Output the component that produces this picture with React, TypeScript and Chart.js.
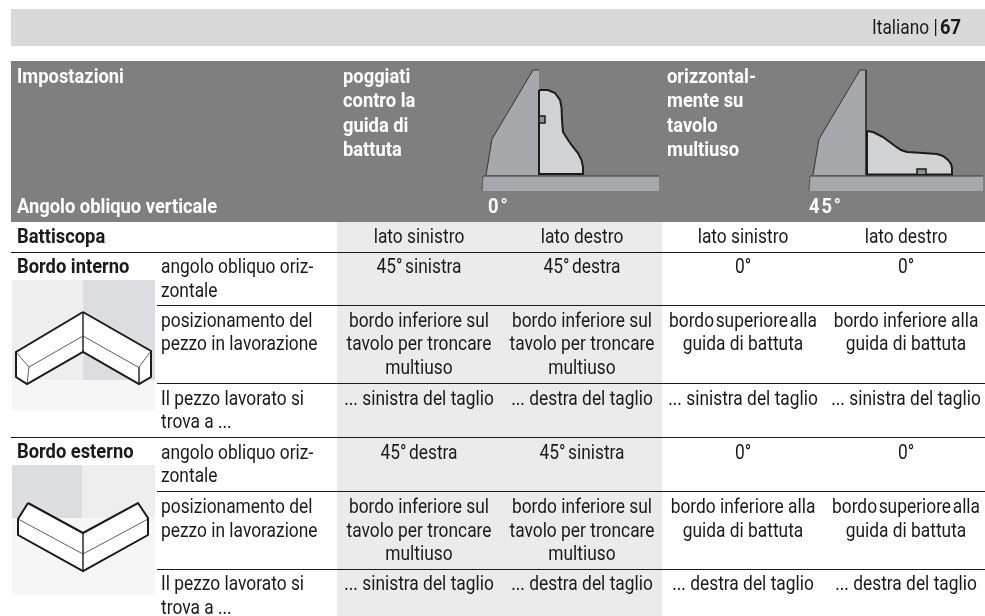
import React, { useEffect, useRef } from "react";
import { Chart, registerables } from "chart.js";

Chart.register(...registerables);

type P = [number, number];

// ---- sheet regions, in sheet units -------------------------------------
const topBand: P[] = [[11, 9], [985, 9], [985, 46], [11, 46]];
const headerBand: P[] = [[11, 61], [985, 61], [985, 222], [11, 222]];
const shadedColumn: P[] = [[337, 222], [662, 222], [662, 616], [337, 616]];

const innerBoxLeft: P[] = [[12, 280], [83, 280], [83, 380], [12, 380]];
const innerBoxRight: P[] = [[83, 280], [155, 280], [155, 380], [83, 380]];
const innerBoxBottom: P[] = [[12, 380], [155, 380], [155, 410], [12, 410]];
const outerBoxLeft: P[] = [[12, 465], [82, 465], [82, 518], [12, 518]];
const outerBoxRight: P[] = [[82, 465], [155, 465], [155, 518], [82, 518]];
const outerBoxBottom: P[] = [[12, 518], [155, 518], [155, 595], [12, 595]];

// ---- rules ---------------------------------------------------------------
const fullRules: number[] = [252.5, 437.5];
const partRules: number[] = [305.5, 383.5, 491.5, 569.5];

// ---- mitre-joint drawings -------------------------------------------------
const innerOutline: P[] = [[83, 312], [16, 352], [16, 377], [27, 384], [83, 352], [139, 384], [151, 377], [151, 351]];
const innerOutlineClosed: P[] = [[83, 312]];
const innerThin: P[][] = [
  [[16, 352], [29, 367], [27, 384]],
  [[29, 367], [83, 336], [138, 367]],
  [[151, 351], [139, 367], [139, 384]],
  [[83, 312], [83, 352]],
];
const outerOutline: P[] = [[28, 503], [18, 519], [18, 535], [83, 571], [148, 535], [148, 518], [138, 503], [83, 533], [28, 503]];
const outerThin: P[][] = [
  [[18, 519], [83, 554], [148, 519]],
  [[83, 533], [83, 571]],
];

// ---- machine profiles -------------------------------------------------------
const fence0: P[] = [[533, 70], [539, 70], [539, 175], [486, 175], [492, 139]];
const base0: P[] = [[483, 176], [659, 176], [659, 191], [482, 191]];
const piece0: P[] = [[539, 90], [548, 90], [555, 93], [560, 100], [561.5, 107], [562, 120], [563, 132], [568, 140], [573, 147], [578, 153], [581.5, 160], [583, 167], [583, 174], [539, 174]];
const notch0: P[] = [[539, 116], [545, 116], [545, 123], [539, 123]];
const fence45: P[] = [[860, 70], [866, 70], [866, 175], [813, 175], [819, 139]];
const base45: P[] = [[810, 176], [983, 176], [983, 191], [809, 191]];
const piece45: P[] = [[867, 131], [873, 132], [883, 137], [895, 146], [901, 150], [907, 152], [923, 153], [937, 154], [943, 156], [948, 160], [951, 164], [952, 168], [952, 174.5], [867, 174.5]];
const notch45: P[] = [[917, 174], [917, 169], [926, 169], [926, 174]];

// ---- text -------------------------------------------------------------------
const pageLabel = "Italiano |";
const pageNumber = "67";
const headLeft = ["Impostazioni", "Angolo obliquo verticale"];
const headCol1 = ["poggiati", "contro la", "guida di", "battuta"];
const headCol2 = ["orizzontal-", "mente su", "tavolo", "multiuso"];
const headAngles = ["0°", "45°"];
const rowHeads = ["Battiscopa", "Bordo interno", "Bordo esterno"];
const rowSides = ["lato sinistro", "lato destro", "lato sinistro", "lato destro"];
const descAngle = ["angolo obliquo oriz-", "zontale"];
const descPos = ["posizionamento del", "pezzo in lavorazione"];
const descWhere = ["Il pezzo lavorato si", "trova a ..."];
const innerAngles = ["45° sinistra", "45° destra", "0°", "0°"];
const outerAngles = ["45° destra", "45° sinistra", "0°", "0°"];
const table3 = ["bordo inferiore sul", "tavolo per troncare", "multiuso"];
const upperFence = ["bordo superiore alla", "guida di battuta"];
const lowerFence = ["bordo inferiore alla", "guida di battuta"];
const innerWhere = ["... sinistra del taglio", "... destra del taglio", "... sinistra del taglio", "... sinistra del taglio"];
const outerWhere = ["... sinistra del taglio", "... destra del taglio", "... destra del taglio", "... destra del taglio"];

// ---- layout ------------------------------------------------------------------
const colCentres = [419, 582, 743, 906];
const FONT = "Roboto";
const SIZE = 19.5;
const SQUEEZE = 0.89;
const BOLD_SQUEEZE = 0.94;

type T = { s: string; x: number; y: number; a?: CanvasTextAlign; b?: boolean; c?: string; ws?: number; ls?: number };
const texts: T[] = [];
const W = "#ffffff";
const add = (s: string, x: number, y: number, o: Partial<T> = {}) => texts.push({ s, x, y, ...o });
add(pageLabel, 872, 34);
add(pageNumber, 961, 34, { a: "right", b: true });
add(headLeft[0], 17, 83, { b: true, c: W });
add(headLeft[1], 17, 213, { b: true, c: W });
[83, 107, 132, 156].forEach((y, i) => {
  add(headCol1[i], 343, y, { b: true, c: W });
  add(headCol2[i], 667, y, { b: true, c: W });
});
add(headAngles[0], 488, 213, { b: true, c: W, ls: 2 });
add(headAngles[1], 809, 213, { b: true, c: W, ls: 2 });
add(rowHeads[0], 17, 243, { b: true });
add(rowHeads[1], 17, 273, { b: true });
add(rowHeads[2], 17, 458, { b: true });
const addDesc = (ys: number[]) => {
  add(descAngle[0], 161, ys[0]); add(descAngle[1], 161, ys[1]);
  add(descPos[0], 161, ys[2]); add(descPos[1], 161, ys[3]);
  add(descWhere[0], 161, ys[4]); add(descWhere[1], 161, ys[5]);
};
addDesc([273, 297, 327, 350, 405, 428]);
addDesc([459, 482, 513, 537, 590, 614]);
colCentres.forEach((x, i) => {
  add(rowSides[i], x, 243, { a: "center" });
  add(innerAngles[i], x, 273, { a: "center", ws: -2 });
  add(outerAngles[i], x, 459, { a: "center", ws: -2 });
  add(innerWhere[i], x, 405, { a: "center" });
  add(outerWhere[i], x, 590, { a: "center" });
});
[0, 1].forEach((c) => {
  [327, 350, 374].forEach((y, i) => add(table3[i], colCentres[c], y, { a: "center" }));
  [513, 537, 560].forEach((y, i) => add(table3[i], colCentres[c], y, { a: "center" }));
});
add(upperFence[0], colCentres[2], 327, { a: "center", ws: -3 });
add(upperFence[1], colCentres[2], 350, { a: "center" });
add(lowerFence[0], colCentres[3], 327, { a: "center" });
add(lowerFence[1], colCentres[3], 350, { a: "center" });
add(lowerFence[0], colCentres[2], 513, { a: "center" });
add(lowerFence[1], colCentres[2], 537, { a: "center" });
add(upperFence[0], colCentres[3], 513, { a: "center", ws: -3 });
add(upperFence[1], colCentres[3], 537, { a: "center" });

// ---- datasets ----------------------------------------------------------------
const toPts = (p: P[]) => p.map(([x, y]) => ({ x, y }));
const ds = (p: P[], o: { fill?: string; stroke?: string; width?: number; close?: boolean } = {}) => ({
  data: toPts(o.close ? [...p, p[0]] : p),
  showLine: true,
  pointRadius: 0,
  borderColor: o.stroke ?? "transparent",
  borderWidth: o.width ?? 0,
  polygonFill: o.fill,
  borderJoinStyle: "miter",
  fill: false,
  tension: 0,
  clip: false,
});
const hr = (y: number, x0: number) => ds([[x0, y], [985, y]], { stroke: "#1a1a1a", width: 1 });

const DARK = "#7f7f7f";
// Chart.js paints the last dataset first, so the painter's list is reversed below.
const paintOrder = [
  ds(topBand, { fill: "#d9d9d9" }),
  ds(headerBand, { fill: DARK }),
  ds(shadedColumn, { fill: "#ebebeb" }),
  ds(innerBoxLeft, { fill: "#eeeeee" }),
  ds(innerBoxRight, { fill: "#dcdde0" }),
  ds(innerBoxBottom, { fill: "#f6f6f6" }),
  ds(outerBoxBottom, { fill: "#f6f6f6" }),
  ds(outerBoxLeft, { fill: "#dcdde0" }),
  ds(outerBoxRight, { fill: "#eeeeee" }),
  ...fullRules.map((y) => hr(y, 11)),
  ...partRules.map((y) => hr(y, 157)),
  ds([...innerOutline, ...innerOutlineClosed], { fill: "#ffffff" }),
  ...innerThin.map((l) => ds(l, { stroke: "#333333", width: 0.8 })),
  ds([...innerOutline, ...innerOutlineClosed], { stroke: "#1a1a1a", width: 2 }),
  ds(outerOutline, { fill: "#ffffff" }),
  ...outerThin.map((l) => ds(l, { stroke: "#333333", width: 0.8 })),
  ds(outerOutline, { stroke: "#1a1a1a", width: 2 }),
  ds(base0, { fill: "#a7a8ab" }),
  ds([base0[0], base0[1]], { stroke: "#3a3a3a", width: 1 }),
  ds([base0[0], base0[3]], { stroke: "#3a3a3a", width: 0.7 }),
  ds(fence0, { fill: "#a7a8ab" }),
  ds([fence0[3], fence0[4], fence0[0], fence0[1]], { stroke: "#333333", width: 1 }),
  ds(piece0, { fill: "#d1d2d4", stroke: "#1c1c1c", width: 2, close: true }),
  ds(notch0, { fill: "#8f9093", stroke: "#1c1c1c", width: 1.5, close: true }),
  ds(base45, { fill: "#a7a8ab" }),
  ds([base45[0], base45[1]], { stroke: "#3a3a3a", width: 1 }),
  ds([base45[0], base45[3]], { stroke: "#3a3a3a", width: 0.7 }),
  ds(fence45, { fill: "#a7a8ab" }),
  ds([fence45[3], fence45[4], fence45[0], fence45[1], fence45[2]], { stroke: "#333333", width: 1 }),
  ds(piece45, { fill: "#d1d2d4", stroke: "#1c1c1c", width: 2, close: true }),
  ds(notch45, { fill: "#8f9093", stroke: "#1c1c1c", width: 1.5 }),
];
const datasets = [...paintOrder].reverse();

const polygonPlugin = {
  id: "polygonFill",
  beforeDatasetDraw(chart: any, args: any) {
    const fill = chart.data.datasets[args.index].polygonFill;
    if (!fill) return;
    const pts = chart.getDatasetMeta(args.index).data;
    const ctx = chart.ctx;
    ctx.save();
    ctx.beginPath();
    pts.forEach((p: any, i: number) => (i ? ctx.lineTo(p.x, p.y) : ctx.moveTo(p.x, p.y)));
    ctx.closePath();
    ctx.fillStyle = fill;
    ctx.fill();
    ctx.restore();
  },
};

const textPlugin = {
  id: "sheetText",
  afterDatasetsDraw(chart: any) {
    const ctx = chart.ctx;
    const sx = chart.scales.x;
    const sy = chart.scales.y;
    texts.forEach((t) => {
      ctx.save();
      ctx.translate(sx.getPixelForValue(t.x), sy.getPixelForValue(t.y));
      ctx.scale(t.b ? BOLD_SQUEEZE : SQUEEZE, 1);
      ctx.font = `${t.b ? "700 " : "400 "}${SIZE}px ${FONT}`;
      ctx.fillStyle = t.c ?? "#1a1a1a";
      ctx.textAlign = t.a ?? "left";
      ctx.textBaseline = "alphabetic";
      if (t.ws !== undefined) ctx.wordSpacing = `${t.ws}px`;
      if (t.ls !== undefined) ctx.letterSpacing = `${t.ls}px`;
      ctx.fillText(t.s, 0, 0);
      ctx.restore();
    });
  },
};

export default function App() {
  const ref = useRef<HTMLCanvasElement>(null);
  useEffect(() => {
    document.body.style.margin = "0";
    const chart = new Chart(ref.current as HTMLCanvasElement, {
      type: "scatter",
      data: { datasets: datasets as any },
      options: {
        animation: false,
        responsive: false,
        maintainAspectRatio: false,
        layout: { padding: 0 },
        events: [],
        plugins: { legend: { display: false }, title: { display: false }, tooltip: { enabled: false } },
        scales: {
          x: { type: "linear", min: 0, max: 985, display: false },
          y: { type: "linear", min: 0, max: 616, reverse: true, display: false },
        },
      },
      plugins: [polygonPlugin, textPlugin],
    });
    return () => chart.destroy();
  }, []);
  return <canvas ref={ref} width={985} height={616} style={{ display: "block" }} />;
}
